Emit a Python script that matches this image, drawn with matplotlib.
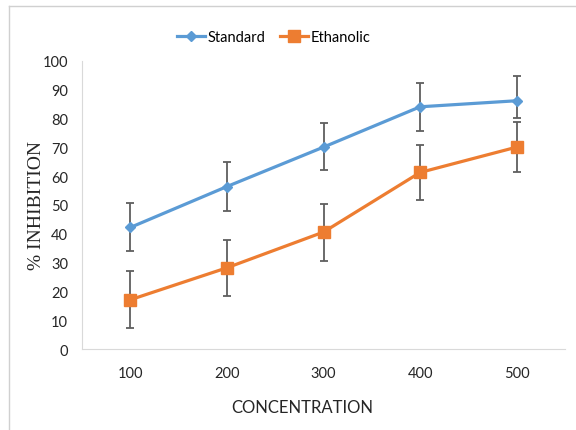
import numpy as np
import matplotlib.pyplot as plt
from matplotlib.lines import Line2D

concentration = ["100", "200", "300", "400", "500"]
standard = [42.2, 56.4, 70.1, 84.1, 86.2]
standard_err_low = [8.3, 8.4, 8.0, 8.5, 6.1]
standard_err_high = [8.5, 8.4, 8.4, 8.1, 8.5]
ethanolic = [17.1, 28.2, 40.6, 61.3, 70.1]
ethanolic_err = [9.9, 9.8, 9.9, 9.7, 8.8]

sans = ["Lato", "DejaVu Sans"]
W, H = 576, 431

fig = plt.figure(figsize=(W / 100, H / 100), dpi=100)
ax = fig.add_axes([82 / W, 1 - 350 / H, (565 - 82) / W, (350 - 62) / H])

# outer chart border (left and top edges only show)
fig.add_artist(Line2D([9 / W, 9 / W], [0, 1 - 7 / H], transform=fig.transFigure, color="#d0d0d0", lw=1))
fig.add_artist(Line2D([9 / W, 1], [1 - 7 / H, 1 - 7 / H], transform=fig.transFigure, color="#d0d0d0", lw=1))

x = np.arange(len(concentration))
ax.errorbar(x, standard, yerr=[standard_err_low, standard_err_high], color="#5b9bd5", lw=2.3,
            marker="D", markersize=5.5, ecolor="#5f5f5f", elinewidth=1.3, capsize=2.8, capthick=1.3,
            label="Standard", zorder=3)
ax.errorbar(x, ethanolic, yerr=ethanolic_err, color="#ed7d31", lw=2.3,
            marker="s", markersize=8, ecolor="#5f5f5f", elinewidth=1.3, capsize=2.8, capthick=1.3,
            label="Ethanolic", zorder=3)

ax.set_xlim(-0.5, len(concentration) - 0.5)
ax.set_ylim(0, 100)
ax.set_yticks(np.arange(0, 101, 10))
ax.set_xticks(x)
ax.set_xticklabels(concentration)

for side in ["top", "right"]:
    ax.spines[side].set_visible(False)
ax.spines["left"].set_color("#d9d9d9")
ax.spines["bottom"].set_color("#d9d9d9")
ax.tick_params(length=0, labelsize=10.5, colors="#262626")
ax.tick_params(axis="x", pad=12)
ax.tick_params(axis="y", pad=10)
for lab in ax.get_xticklabels() + ax.get_yticklabels():
    lab.set_family(sans)

ax.set_xlabel("CONCENTRATION", fontsize=12, family=sans, color="#262626")
ax.xaxis.set_label_coords(0.455, -0.175)
ax.set_ylabel("% INHIBITION", fontsize=14, family="Liberation Serif", color="#262626")
ax.yaxis.set_label_coords(-0.076, 0.5)

handles, labels = ax.get_legend_handles_labels()
handles = [h[0] for h in handles]
fig.legend(handles, labels, loc="center", bbox_to_anchor=(274 / W, 1 - 38 / H), ncol=2,
           frameon=False, handlelength=1.9, handletextpad=0.2, columnspacing=1.0,
           prop={"family": sans, "size": 10.5})

fig.savefig("out.png", dpi=100)
